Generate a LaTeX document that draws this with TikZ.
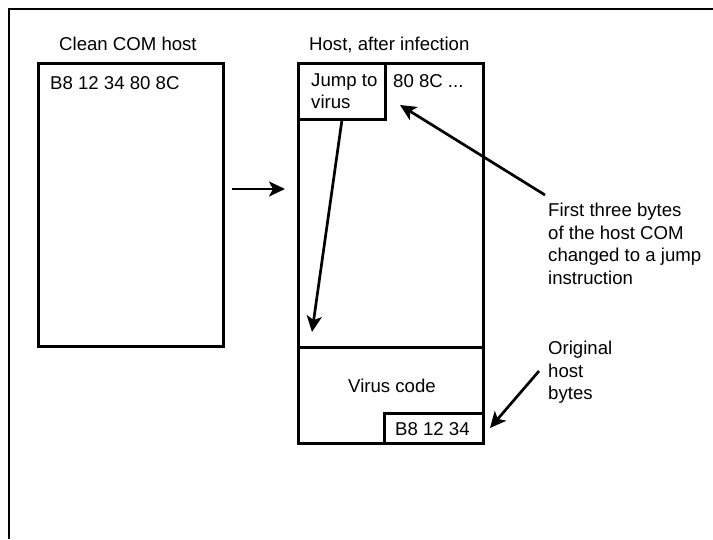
\documentclass[tikz,border=0pt]{standalone}
\usepackage{fontspec}
\setmainfont{Liberation Sans}
\usetikzlibrary{arrows.meta}
\begin{document}
\begin{tikzpicture}[x=1pt,y=-1pt,
  box/.style={draw,line width=2.7pt,rectangle,inner sep=0pt,anchor=north west},
  lbl/.style={inner sep=0pt,anchor=base west,font=\fontsize{18.6}{22.5}\selectfont},
  mlbl/.style={inner sep=0pt,anchor=north west,align=left,font=\fontsize{18.6}{22.5}\selectfont},
  arr/.style={line width=2.7pt,-{Stealth[length=16pt,width=15pt,inset=4pt]}}]
\useasboundingbox (0,0) rectangle (713,539);
% frame
\draw[line width=2.7pt] (9,539) -- (9,9) -- (713,9);
% boxes
\node[box,minimum width=185pt,minimum height=283pt] (clean) at (37,62) {};
\node[box,minimum width=185pt,minimum height=380pt] (host) at (297,62) {};
\node[box,minimum width=87pt,minimum height=56pt] (jump) at (297,62) {};
\node[box,minimum width=185pt,minimum height=96pt] (virus) at (297,346) {};
\node[box,minimum width=99pt,minimum height=30pt] (orig) at (383,412) {};
% texts
\node[lbl] (t1) at (59,50) {Clean COM host};
\node[lbl] (t2) at (309,50) {Host, after infection};
\node[lbl] (t3) at (50,89) {B8 12 34 80 8C};
\node[mlbl] (t4) at (311,73) {Jump to\\virus};
\node[lbl] (t5) at (393,87) {80 8C ...};
\node[lbl,anchor=base] (t6) at (392,392) {Virus code};
\node[lbl] (t7) at (395,435) {B8 12 34};
\node[mlbl] (t8) at (548,203) {First three bytes\\of the host COM\\changed to a jump\\instruction};
\node[mlbl] (t9) at (548,341) {Original\\host\\bytes};
% connector ends
\coordinate (m1) at (232,189);
\coordinate (m2) at (285,189);
\coordinate (j2) at (312,332);
\coordinate (f1) at (545,195);
\coordinate (f2) at (400,105);
\coordinate (o1) at (539,371);
\coordinate (o2) at (490,428);
% arrows
\draw[arr] (m1) -- (m2);
\draw[arr] (jump.south) -- (j2);
\draw[arr] (f1) -- (f2);
\draw[arr] (o1) -- (o2);
\end{tikzpicture}
\end{document}
